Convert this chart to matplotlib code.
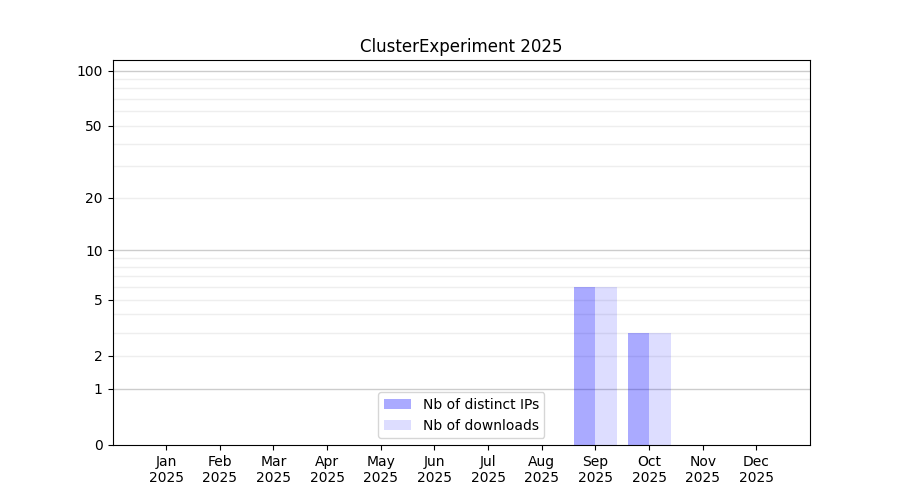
import numpy as np
import matplotlib
matplotlib.use("Agg")
import matplotlib.pyplot as plt

months = ["Jan", "Feb", "Mar", "Apr", "May", "Jun", "Jul", "Aug", "Sep", "Oct", "Nov", "Dec"]
year = "2025"
distinct_ips = [0, 0, 0, 0, 0, 0, 0, 0, 6, 3, 0, 0]
downloads = [0, 0, 0, 0, 0, 0, 0, 0, 6, 3, 0, 0]
yticks = [0, 1, 2, 5, 10, 20, 50, 100]

fig, ax = plt.subplots(figsize=(9, 5), dpi=100)

def fwd(x):
    return np.log10(1 + np.clip(x, 0, None))

def inv(y):
    return 10 ** np.asarray(y) - 1

ax.set_yscale('function', functions=(fwd, inv))

# grid lines
for v in [1, 10, 100]:
    ax.axhline(v, color='#cccccc', lw=1, zorder=0)
for dec in [1, 10]:
    for m in range(2, 10):
        ax.axhline(dec * m, color='#eeeeee', lw=1, zorder=0)

x = np.arange(len(months))
w = 0.4
ax.bar(x - w / 2, distinct_ips, w, color='blue', alpha=1/3, label='Nb of distinct IPs', zorder=1)
ax.bar(x + w / 2, downloads, w, color='blue', alpha=0.135, label='Nb of downloads', zorder=1)

ax.set_xticks(x)
ax.set_xticklabels([f"{m}\n{year}" for m in months])
ax.set_xlim(-1, 12)
ax.set_yticks(yticks)
ax.set_yticklabels([str(t) for t in yticks])
ax.yaxis.set_minor_locator(matplotlib.ticker.NullLocator())
ax.set_ylim(0, 114)
ax.set_title("ClusterExperiment 2025")
ax.legend(loc='lower center')

fig.savefig("out.png", dpi=100)
